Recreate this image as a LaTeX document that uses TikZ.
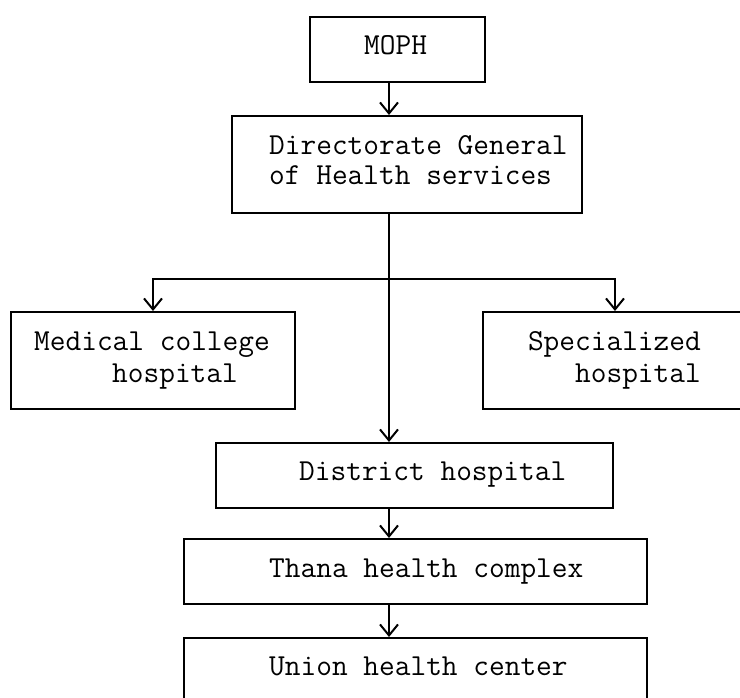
\documentclass[tikz,border=0pt]{standalone}
\usetikzlibrary{arrows.meta}
\tikzset{
  box/.style={draw, line width=2pt, inner sep=0pt},
  lbl/.style={inner sep=0pt, font=\ttfamily\fontsize{30.5}{32}\selectfont},
  arr/.style={line width=2pt, -{Straight Barb[length=11pt,width=18pt,line width=2pt]}}
}
\begin{document}
\begin{tikzpicture}[x=1pt, y=-1pt]
  \useasboundingbox (0,0) rectangle (740,698);
  \clip (0,0) rectangle (740,698);
  % boxes: name / centre / size
  \foreach \n/\x/\y/\w/\h in {
    moph/397.5/49.5/175/65,
    dg/407/164.5/350/97,
    mch/153/360.5/284/97,
    spec/615/360.5/264/97,
    dist/414.5/475.5/397/65,
    thana/415.5/571.5/463/65,
    union/415.5/684/463/92} {
    \node[box, minimum width=\w pt, minimum height=\h pt] (\n) at (\x,\y) {};
  }
  % texts
  \foreach \n/\x/\y/\txt in {
    tmoph/364/55/MOPH,
    tdg1/269/155/{Directorate General},
    tdg2/269/185/{of Health services},
    tmch1/34/350/{Medical college},
    tmch2/112/382/hospital,
    tdist/299/480/{District hospital},
    tthana/269/577/{Thana health complex},
    tunion/269/675/{Union health center}} {
    \node[lbl, anchor=base west] (\n) at (\x,\y) {\txt};
  }
  \node[lbl, anchor=base east] (tspec1) at (701,350) {Specialized};
  \node[lbl, anchor=base east] (tspec2) at (701,382) {hospital};
  % arrows
  \coordinate (axis) at (389,0);
  \coordinate (split) at (389,279);
  \draw[arr] (axis |- moph.south) -- (axis |- dg.north);
  \draw[arr] (axis |- dg.south) -- (axis |- dist.north);
  \draw[arr] (split) -| (mch.north);
  \draw[arr] (split) -| (spec.north);
  \draw[arr] (axis |- dist.south) -- (axis |- thana.north);
  \draw[arr] (axis |- thana.south) -- (axis |- union.north);
\end{tikzpicture}
\end{document}
